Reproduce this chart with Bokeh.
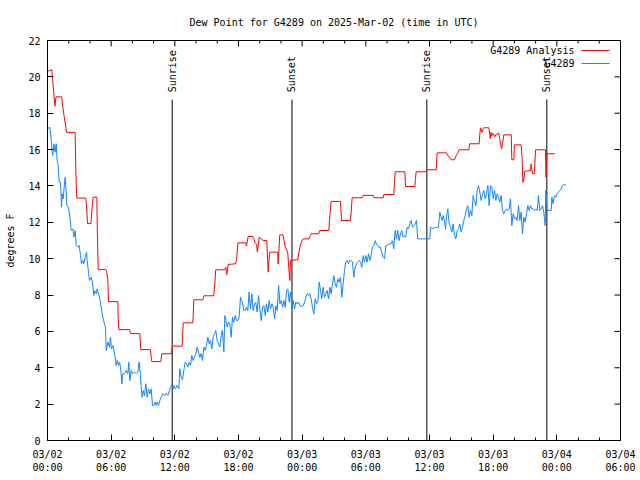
import math
from bokeh.plotting import figure
from bokeh.models import Range1d, FixedTicker, LinearAxis, Label, Arrow
from bokeh.embed import file_html
from bokeh.resources import INLINE

# ---------------- data (hours since 2025-03-02 00:00 UTC) ----------------
obs_hours = [0.0, 0.22, 0.35, 0.41, 0.50, 0.60, 0.72, 0.82, 0.91, 1.01, 1.10, 1.23, 1.32, 1.38, 1.48, 1.57, 1.66, 1.76,
             1.82, 1.98, 2.07, 2.17, 2.23, 2.39, 2.48, 2.61, 2.70, 2.86, 2.98, 3.11, 3.20, 3.33, 3.42, 3.55, 3.68, 3.74,
             3.86, 3.96, 4.12, 4.24, 4.37, 4.43, 4.59, 4.68, 4.81, 4.90, 5.06, 5.21, 5.37, 5.47, 5.53, 5.69, 5.84, 5.94,
             6.03, 6.16, 6.25, 6.38, 6.47, 6.57, 6.69, 6.79, 6.88, 7.01, 7.10, 7.26, 7.41, 7.57, 7.66, 7.76, 7.89, 8.04,
             8.20, 8.36, 8.51, 8.64, 8.73, 8.82, 8.92, 9.02, 9.14, 9.27, 9.39, 9.52, 9.65, 9.77, 9.90, 10.02, 10.15,
             10.24, 10.34, 10.46, 10.59, 10.71, 10.87, 11.03, 11.18, 11.34, 11.50, 11.59, 11.72, 11.84, 11.91, 12.06,
             12.22, 12.38, 12.47, 12.6, 12.72, 12.85, 12.97, 13.1, 13.22, 13.35, 13.48, 13.6, 13.73, 13.85, 13.98, 14.1,
             14.23, 14.36, 14.48, 14.61, 14.73, 14.86, 14.98, 15.11, 15.24, 15.36, 15.49, 15.61, 15.74, 15.86, 15.99,
             16.11, 16.24, 16.37, 16.49, 16.62, 16.71, 16.81, 16.93, 17.06, 17.18, 17.31, 17.43, 17.56, 17.68, 17.81,
             17.94, 18.06, 18.19, 18.28, 18.37, 18.5, 18.63, 18.75, 18.88, 19.0, 19.13, 19.26, 19.38, 19.51, 19.63,
             19.76, 19.89, 20.01, 20.14, 20.27, 20.39, 20.52, 20.64, 20.77, 20.89, 21.02, 21.15, 21.27, 21.4, 21.52,
             21.65, 21.78, 21.9, 22.03, 22.15, 22.28, 22.4, 22.53, 22.65, 22.78, 22.9, 23.03, 23.16, 23.28, 23.41,
             23.53, 23.66, 23.78, 23.84, 24.1, 24.22, 24.35, 24.47, 24.6, 24.72, 24.85, 24.97, 25.1, 25.23, 25.35,
             25.48, 25.6, 25.73, 25.85, 25.98, 26.1, 26.23, 26.36, 26.48, 26.61, 26.73, 26.86, 26.98, 27.11, 27.23,
             27.36, 27.48, 27.61, 27.74, 27.86, 27.99, 28.11, 28.24, 28.36, 28.49, 28.62, 28.74, 28.87, 28.99, 29.12,
             29.24, 29.37, 29.5, 29.62, 29.75, 29.87, 30.0, 30.12, 30.25, 30.37, 30.5, 30.62, 30.75, 30.88, 31.0,
             31.13, 31.25, 31.38, 31.5, 31.63, 31.76, 31.88, 32.01, 32.13, 32.26, 32.38, 32.51, 32.63, 32.76, 32.88,
             33.01, 33.13, 33.26, 33.39, 33.51, 33.64, 33.76, 33.89, 34.01, 34.14, 34.27, 34.39, 34.52, 34.64, 34.77,
             34.89, 35.02, 35.27, 35.52, 35.77, 36.03, 36.09, 36.15, 36.34, 36.47, 36.6, 36.72, 36.84, 36.97, 37.1,
             37.19, 37.29, 37.41, 37.51, 37.6, 37.73, 37.85, 37.98, 38.1, 38.23, 38.36, 38.48, 38.61, 38.73, 38.86,
             38.98, 39.11, 39.23, 39.36, 39.49, 39.61, 39.74, 39.86, 39.99, 40.11, 40.24, 40.37, 40.49, 40.62, 40.74,
             40.87, 41.0, 41.12, 41.25, 41.37, 41.5, 41.62, 41.75, 41.88, 42.0, 42.13, 42.25, 42.38, 42.5, 42.63,
             42.75, 42.88, 43.0, 43.13, 43.26, 43.38, 43.51, 43.63, 43.76, 43.88, 44.01, 44.14, 44.26, 44.39, 44.51,
             44.64, 44.76, 44.89, 45.01, 45.14, 45.27, 45.39, 45.52, 45.64, 45.77, 45.89, 46.02, 46.15, 46.27, 46.4,
             46.52, 46.65, 46.77, 46.9, 46.96, 47.09, 47.28, 47.47, 47.53, 47.65, 47.78, 47.9, 48.02, 48.15, 48.28,
             48.4, 48.53, 48.65, 48.84]
obs_dewpt = [17.14, 17.23, 16.59, 15.95, 15.68, 16.32, 15.86, 16.32, 15.4, 15.12, 14.2, 14.2, 12.83, 13.57, 13.29,
             13.93, 14.48, 13.66, 12.93, 12.83, 12.47, 12.01, 11.55, 11.64, 11.18, 11.55, 10.73, 10.63, 10.73, 10.18,
             9.72, 9.9, 9.72, 10.08, 10.36, 9.9, 9.26, 8.8, 8.98, 8.71, 7.98, 8.25, 8.07, 8.34, 8.07, 7.88, 7.33, 6.78,
             6.42, 6.23, 4.95, 5.41, 5.13, 5.68, 5.04, 5.22, 4.95, 4.58, 4.13, 4.4, 4.13, 4.31, 4.03, 3.12, 3.67, 3.67,
             3.85, 3.67, 4.31, 3.3, 3.85, 3.67, 3.76, 3.67, 3.76, 4.31, 3.76, 3.03, 2.38, 2.75, 2.47, 3.12, 2.38, 2.84,
             2.57, 2.84, 1.93, 1.93, 2.11, 1.93, 2.11, 1.93, 2.2, 2.38, 2.57, 2.47, 2.6, 2.47, 2.75, 2.93, 3.03, 2.84,
             3.03, 2.84, 3.03, 2.84, 3.94, 3.48, 3.34, 3.85, 4.31, 4.22, 4.04, 4.31, 4.13, 4.68, 4.4, 4.58, 4.77, 5.13,
             4.86, 4.58, 4.77, 4.4, 5.13, 4.95, 5.22, 5.68, 5.32, 5.5, 5.04, 5.68, 5.87, 6.05, 5.5, 5.32, 5.13, 5.77,
             6.05, 4.86, 6.87, 6.6, 6.23, 6.51, 6.42, 5.68, 6.78, 6.51, 6.87, 6.6, 6.6, 6.78, 7.88, 7.7, 7.61, 7.15,
             7.15, 7.33, 7.15, 8.16, 7.24, 8.07, 7.15, 7.52, 7.61, 7.06, 7.97, 7.24, 6.6, 7.33, 7.42, 6.87, 7.52, 7.06,
             7.7, 7.24, 7.52, 7.33, 6.69, 7.42, 7.15, 8.52, 7.52, 7.7, 7.33, 7.7, 7.33, 8.25, 8.34, 7.61, 8.16, 7.24,
             7.7, 7.24, 7.61, 7.52, 7.61, 7.42, 7.37, 7.42, 7.6, 7.88, 8.07, 7.97, 8.07, 7.79, 7.33, 6.97, 7.79, 7.52,
             7.6, 8.71, 8.25, 7.79, 8.43, 7.88, 8.07, 8.25, 7.79, 8.43, 8.07, 8.62, 9.07, 8.62, 8.43, 8.89, 8.71, 8.98,
             7.88, 8.62, 9.35, 9.81, 9.9, 9.72, 9.9, 9.9, 9.81, 8.98, 9.53, 9.72, 9.81, 9.9, 9.81, 9.53, 10.17, 9.81,
             10.17, 9.81, 10.27, 9.9, 10.17, 10.63, 10.72, 10.99, 10.81, 10.72, 10.63, 10.63, 10.36, 10.08, 9.99,
             10.72, 10.72, 10.81, 10.81, 10.81, 10.99, 10.54, 11.55, 11.09, 11.55, 10.99, 11.36, 11.55, 11.18, 11.27,
             11.18, 11.73, 11.64, 11.91, 12.1, 11.73, 11.82, 11.91, 12.1, 11.09, 11.09, 11.09, 11.09, 11.09, 11.09,
             11.73, 11.73, 11.64, 11.73, 11.7, 11.73, 11.73, 12.56, 12.28, 12.1, 12.37, 12.1, 11.64, 12.28, 12.74,
             11.91, 11.73, 11.46, 11.91, 11.28, 11.09, 11.55, 11.64, 11.91, 11.46, 11.73, 12.1, 12.37, 12.74, 12.92,
             12.28, 12.65, 12.37, 13.47, 13.2, 12.92, 13.75, 14.02, 13.66, 13.2, 13.57, 13.75, 13.29, 13.57, 14.02,
             12.92, 14.02, 13.93, 13.29, 13.75, 13.2, 13.57, 13.38, 13.11, 13.47, 12.65, 12.47, 12.65, 12.74, 12.65,
             12.74, 13.29, 11.82, 12.47, 12.19, 12.28, 12.1, 12.92, 12.1, 12.56, 11.37, 12.28, 12.01, 12.47, 12.92,
             12.65, 12.92, 12.74, 12.74, 12.65, 12.74, 12.65, 13.47, 12.65, 12.74, 12.92, 12.56, 11.82, 13.75, 12.65,
             12.65, 12.65, 13.38, 13.02, 13.47, 13.38, 13.57, 13.66, 13.75, 13.84, 14.02, 14.07, 14.07]

ana_hours = [0.0, 0.4, 0.7, 0.8, 1.35, 1.4, 1.45, 1.8, 2.6, 2.7, 2.76, 3.6, 3.68, 3.77, 4.1, 4.2, 4.3, 4.65, 4.7, 4.78,
             5.47, 5.56, 5.68, 5.75, 6.63, 6.66, 6.72, 7.73, 7.82, 8.7, 8.79, 9.7, 9.77, 9.83, 10.68, 10.77, 11.66,
             11.78, 12.69, 12.79, 13.7, 13.79, 14.64, 14.73, 15.67, 15.77, 15.86, 16.71, 16.8, 16.9, 17.03, 17.72,
             17.82, 17.94, 18.69, 18.75, 18.91, 19.35, 19.45, 19.55, 19.7, 19.78, 19.85, 19.95, 20.33, 20.67, 20.73,
             20.8, 20.87, 20.95, 21.7, 21.73, 21.8, 21.89, 22.18, 22.3, 22.4, 22.52, 22.65, 22.73, 22.84, 22.9, 23.59,
             23.7, 23.85, 24.0, 24.1, 24.63, 24.79, 24.85, 25.57, 25.65, 26.51, 26.6, 26.73, 27.61, 27.71, 28.55,
             28.62, 28.71, 29.66, 29.75, 30.69, 30.78, 31.63, 31.7, 32.64, 32.7, 32.77, 33.68, 33.74, 34.62, 34.68,
             34.74, 35.65, 35.78, 36.63, 36.72, 37.6, 37.7, 37.9, 38.04, 38.35, 38.47, 38.65, 38.8, 39.71, 39.77,
             40.68, 40.75, 40.81, 40.95, 41.1, 41.59, 41.67, 41.73, 41.8, 41.85, 42.0, 42.15, 42.3, 42.53, 42.62,
             42.7, 42.8, 42.88, 43.0, 43.7, 43.76, 43.95, 44.0, 44.64, 44.72, 44.8, 44.9, 44.98, 45.52, 45.58, 45.71,
             45.87, 46.0, 46.93, 46.98, 47.06, 47.81]
ana_dewpt = [20.3, 20.4, 18.4, 18.9, 18.9, 18.5, 18.3, 16.95, 16.95, 14.2, 13.33, 13.33, 12.9, 11.93, 11.93, 12.8,
             13.38, 13.38, 11.4, 9.4, 9.4, 9.33, 8.9, 7.64, 7.64, 6.87, 6.1, 6.1, 5.88, 5.88, 5.0, 5.0, 4.58, 4.34,
             4.34, 4.77, 4.77, 5.19, 5.19, 6.47, 6.47, 7.74, 7.74, 7.96, 7.96, 8.65, 9.39, 9.39, 9.53, 9.13, 9.68,
             9.72, 9.9, 10.87, 10.87, 10.7, 11.22, 11.22, 11.1, 10.9, 10.78, 10.36, 10.7, 11.18, 11.0, 11.0, 10.08,
             9.26, 9.9, 10.36, 10.36, 9.72, 10.36, 11.31, 11.31, 11.0, 10.64, 10.54, 10.27, 9.53, 8.8, 9.9, 9.94,
             10.36, 10.8, 11.0, 11.09, 11.09, 11.28, 11.37, 11.37, 11.55, 11.55, 12.28, 13.15, 13.15, 12.1, 12.1,
             12.6, 13.35, 13.35, 13.48, 13.48, 13.35, 13.35, 13.53, 13.53, 14.2, 14.78, 14.78, 13.97, 13.97, 14.4,
             14.78, 14.78, 14.89, 14.89, 15.82, 15.82, 15.7, 15.55, 15.44, 15.44, 15.62, 15.8, 15.99, 15.99, 16.32,
             16.32, 16.9, 17.2, 16.95, 17.2, 17.2, 16.9, 16.6, 16.95, 16.75, 16.9, 16.7, 16.85, 16.9, 16.6, 16.32,
             16.05, 16.32, 16.81, 16.81, 15.44, 15.44, 16.26, 16.26, 15.6, 14.2, 14.4, 14.81, 14.85, 15.22, 14.67,
             14.67, 15.99, 15.99, 14.48, 15.77, 15.77]

sun_hours = [11.75, 23.04, 35.75, 47.06]
sun_labels = ["Sunrise", "Sunset", "Sunrise", "Sunset"]

xtick_hours = [0, 6, 12, 18, 24, 30, 36, 42, 48, 54]
xtick_labels = ["03/02\n00:00", "03/02\n06:00", "03/02\n12:00", "03/02\n18:00", "03/03\n00:00",
                "03/03\n06:00", "03/03\n12:00", "03/03\n18:00", "03/04\n00:00", "03/04\n06:00"]
xminor_hours = [2, 4, 8, 10, 14, 16, 20, 22, 26, 28, 32, 34, 38, 40, 44, 46, 50, 52]
ytick_vals = [0, 2, 4, 6, 8, 10, 12, 14, 16, 18, 20, 22]

series_names = ["G4289 Analysis", "G4289"]
series_colors = ["#ff0000", "#1385ff"]

FONT = "DejaVu Sans Mono"
FS = "10px"
X_MAX, Y_MAX = 54, 22

# ---------------- figure ----------------
p = figure(width=640, height=480, output_backend="svg", toolbar_location=None,
           x_range=Range1d(0, X_MAX), y_range=Range1d(0, Y_MAX),
           x_axis_type=None, y_axis_type=None,
           min_border_left=47, min_border_right=20, min_border_top=40, min_border_bottom=40)
p.grid.visible = False
p.outline_line_color = "black"
p.background_fill_color = "white"
p.border_fill_color = "white"

p.title.text = "Dew Point for G4289 on 2025-Mar-02 (time in UTC)"
p.title.align = "center"
p.title.text_font = FONT
p.title.text_font_size = FS
p.title.text_font_style = "normal"
p.title.text_color = "black"
p.title.standoff = 25

xt = FixedTicker(ticks=xtick_hours, minor_ticks=xminor_hours)
yt = FixedTicker(ticks=ytick_vals, minor_ticks=[])


def style(ax):
    ax.major_tick_in = 6
    ax.major_tick_out = 0
    ax.minor_tick_in = 3
    ax.minor_tick_out = 0
    ax.axis_line_color = "black"
    ax.major_tick_line_color = "black"
    ax.minor_tick_line_color = "black"
    ax.major_label_text_font = FONT
    ax.major_label_text_color = "black"
    ax.major_label_text_font_size = FS


xb = LinearAxis(ticker=xt, major_label_overrides={h: l for h, l in zip(xtick_hours, xtick_labels)})
style(xb)
xb.major_label_standoff = 8
xb.axis_label_standoff = 0
p.add_layout(xb, "below")

yl = LinearAxis(ticker=yt, axis_label="degrees F")
style(yl)
yl.major_label_standoff = 7
yl.axis_label_text_font = FONT
yl.axis_label_text_font_size = FS
yl.axis_label_text_font_style = "normal"
yl.axis_label_text_color = "black"
yl.axis_label_standoff = 9
p.add_layout(yl, "left")

# mirrored inward ticks on the top and right borders (gnuplot style)
p.ray(x=xtick_hours, y=Y_MAX, length=6, length_units="screen", angle=-math.pi / 2,
      line_color="black", line_width=1)
p.ray(x=xminor_hours, y=Y_MAX, length=3, length_units="screen", angle=-math.pi / 2,
      line_color="black", line_width=1)
p.ray(x=X_MAX, y=ytick_vals, length=6, length_units="screen", angle=math.pi,
      line_color="black", line_width=1)

# sunrise / sunset markers
p.segment(x0=sun_hours, y0=0, x1=sun_hours, y1=18.75, line_color="black", line_width=1)
p.text(x=sun_hours, y=19.15, text=sun_labels, angle=math.pi / 2, text_align="left",
       text_baseline="middle", text_font={"value": FONT}, text_font_size={"value": FS}, text_color="black")

p.line(ana_hours, ana_dewpt, line_color=series_colors[0], line_width=1)
p.line(obs_hours, obs_dewpt, line_color=series_colors[1], line_width=1)

# gnuplot-style key: text on the left, line sample on the right
for i, (name, col) in enumerate(zip(series_names, series_colors)):
    ky = 390 - 13 * i
    p.add_layout(Label(x=527, y=ky, x_units="screen", y_units="screen", text=name,
                       text_align="right", text_baseline="middle", text_font=FONT,
                       text_font_size=FS, text_color="black"))
    p.add_layout(Arrow(x_start=534, y_start=ky, x_end=562, y_end=ky, start_units="screen",
                       end_units="screen", start=None, end=None, line_color=col, line_width=1))

open("out.html", "w").write(file_html(p, INLINE))
